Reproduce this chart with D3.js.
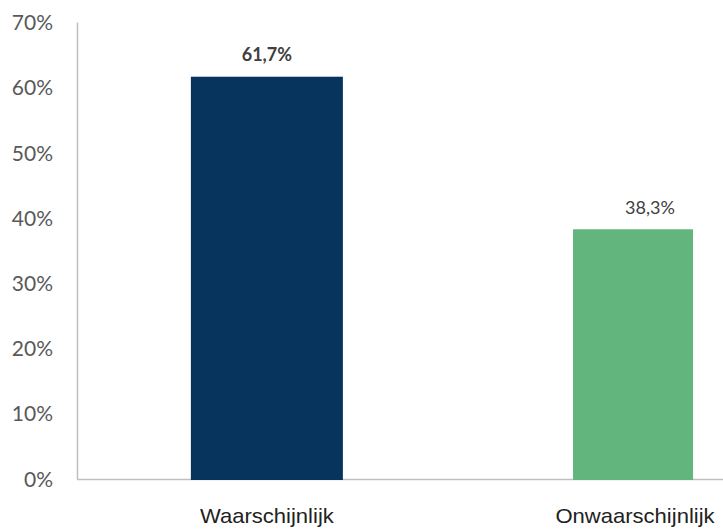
<!DOCTYPE html>
<html>
<head>
<meta charset="utf-8">
<script src="https://cdn.jsdelivr.net/npm/d3@7"></script>
<style>
  body { margin: 0; background: #fff; }
  svg { display: block; }
</style>
</head>
<body>
<svg id="chart" width="723" height="529"></svg>
<script>
// ---- data ----
const categories = ["Waarschijnlijk", "Onwaarschijnlijk"];
const values = [61.7, 38.3];
const valueLabels = ["61,7%", "38,3%"];
const yTicks = [0, 10, 20, 30, 40, 50, 60, 70];

// ---- styles ----
const barColors = ["#07345C", "#62B57D"];
const barWidths = [152, 120];
const labelWeights = ["bold", "normal"];
const labelShift = [0, 17];

const svg = d3.select("#chart");
const W = 723, H = 529;

const y = d3.scaleLinear().domain([0, 70]).range([479, 22.6]);
const x = d3.scaleBand().domain(categories).range([77, 839]).paddingInner(0.602).paddingOuter(0.298);

// y axis line
svg.append("line").attr("x1", 77.5).attr("x2", 77.5).attr("y1", y(70)).attr("y2", y(0))
  .attr("stroke", "#BFBFBF").attr("stroke-width", 1.5);

// y tick labels
svg.append("g").selectAll("text").data(yTicks).join("text")
  .attr("x", 53).attr("y", d => y(d))
  .attr("dy", "0.36em")
  .attr("text-anchor", "end")
  .attr("font-family", "Lato, 'Open Sans', sans-serif")
  .attr("font-size", 21)
  .attr("fill", "#595959")
  .text(d => d + "%");

// bars
const data = categories.map((c, i) => ({c, v: values[i], i}));

// baseline
svg.append("line").attr("x1", 77).attr("x2", W).attr("y1", y(0) + 0.5).attr("y2", y(0) + 0.5)
  .attr("stroke", "#BFBFBF").attr("stroke-width", 1.5);

svg.append("g").selectAll("rect").data(data).join("rect")
  .attr("x", d => x(d.c))
  .attr("y", d => y(d.v))
  .attr("width", d => barWidths[d.i])
  .attr("height", d => y(0) - y(d.v) + 1)
  .attr("fill", d => barColors[d.i]);

// value labels
svg.append("g").selectAll("text").data(data).join("text")
  .attr("x", d => x(d.c) + barWidths[d.i] / 2 + labelShift[d.i])
  .attr("y", d => y(d.v) - 22)
  .attr("dy", "0.36em")
  .attr("text-anchor", "middle")
  .attr("font-family", "Lato, 'Open Sans', sans-serif")
  .attr("font-size", 18)
  .attr("font-weight", d => labelWeights[d.i])
  .attr("fill", "#404040")
  .text((d) => valueLabels[d.i]);

// category labels
svg.append("g").selectAll("text").data(data).join("text")
  .attr("transform", d => `translate(${x(d.c) + barWidths[d.i] / 2 + (d.i === 1 ? 2 : 0)}, 523) scale(1.05,1)`)
  .attr("text-anchor", "middle")
  .attr("font-family", "'Liberation Sans', Arial, sans-serif")
  .attr("font-size", 21)
  .attr("fill", "#222")
  .text(d => d.c);
</script>
</body>
</html>
